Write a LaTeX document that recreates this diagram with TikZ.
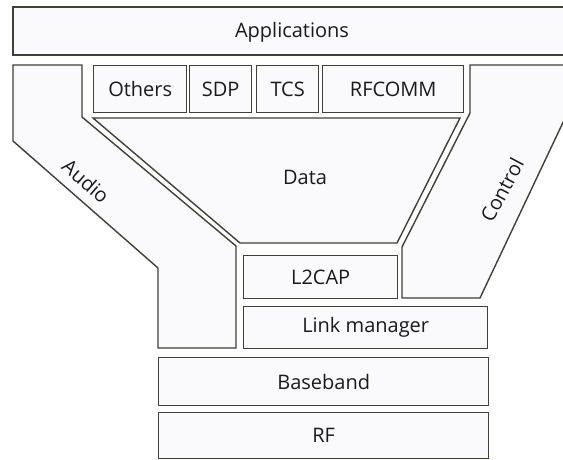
\documentclass[tikz,border=0pt]{standalone}
\usepackage{fontspec}
\setsansfont{Open Sans}
\usepackage{xcolor}
\newcommand{\picwidth}{563}
\newcommand{\picheight}{460}
\definecolor{layerbg}{HTML}{FAFAFD}
\definecolor{edgecolor}{HTML}{404035}
\definecolor{labelcolor}{HTML}{1A1A1A}

\tikzset{
  layer/.style={draw=edgecolor, fill=layerbg, line width=1.4pt, inner sep=0pt, anchor=north west,
    font=\sffamily\fontsize{20}{22}\selectfont\color{labelcolor}},
  band/.style={draw=edgecolor, fill=layerbg, line width=1.4pt, line join=miter},
  bandlabel/.style={font=\sffamily\fontsize{20}{22}\selectfont\color{labelcolor}}
}

\begin{document}
\begin{tikzpicture}[x=1pt, y=-1pt]
  \useasboundingbox (0,0) rectangle (\picwidth, \picheight);
  \fill[white] (0,0) rectangle (\picwidth, \picheight);

  % === APPLICATIONS ===
  \filldraw[band] (13,7) rectangle (575,55);
  \node[bandlabel] (apps) at (292,32) {Applications};

  % === PROTOCOLS ON TOP OF L2CAP ===
  \node[layer, minimum width=93pt, minimum height=47pt] (others) at (93,65) {Others};
  \node[layer, minimum width=62pt, minimum height=47pt] (sdp) at (189,65) {SDP};
  \node[layer, minimum width=62pt, minimum height=47pt] (tcs) at (256,65) {TCS};
  \node[layer, minimum width=141pt, minimum height=47pt] (rfcomm) at (322,65) {RFCOMM};

  % === AUDIO PATH ===
  \filldraw[band] (13,65) -- (82,65) -- (82,117) -- (236,246) -- (236,348)
    -- (158,348) -- (158,268) -- (13,141) -- cycle;
  \node[bandlabel, rotate=-41] (audio) at (86,181) {Audio};

  % === DATA PATH ===
  \filldraw[band] (93,118) -- (460,118) -- (397,243) -- (240,243) -- cycle;
  \node[bandlabel] (data) at (305,177) {Data};

  % === CONTROL PATH ===
  \filldraw[band] (470,65) -- (575,65) -- (575,97) -- (480,298) -- (402,298)
    -- (402,247) -- (470,113) -- cycle;
  \node[bandlabel, rotate=62] (control) at (502,190) {Control};

  % === LOWER LAYERS ===
  \node[layer, minimum width=154pt, minimum height=43pt] (l2cap) at (243,255) {L2CAP};
  \node[layer, minimum width=244pt, minimum height=42pt] (linkmgr) at (243,306) {Link manager};
  \node[layer, minimum width=330pt, minimum height=48pt] (baseband) at (158,357) {Baseband};
  \node[layer, minimum width=330pt, minimum height=46pt] (rf) at (158,412) {RF};
\end{tikzpicture}
\end{document}
